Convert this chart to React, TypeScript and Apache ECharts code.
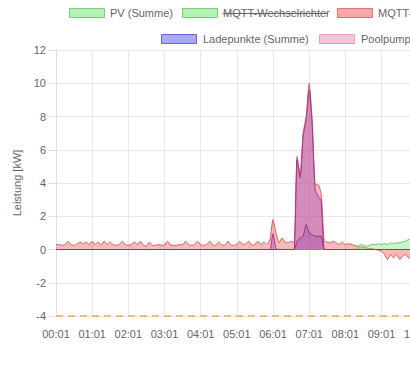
import React, { useEffect, useRef } from "react";
import * as echarts from "echarts";

// time step of the data in minutes, starting at 00:01
const stepMinutes = 5;

// MQTT-Zähler (grid / house), kW
const gridValues: number[] = [
  0.30, 0.30, 0.25, 0.30, 0.50, 0.28, 0.25, 0.35, 0.45, 0.35, 0.45, 0.30,
  0.50, 0.30, 0.45, 0.28, 0.50, 0.30, 0.45, 0.28, 0.25, 0.30, 0.50, 0.28,
  0.25, 0.30, 0.45, 0.30, 0.50, 0.25, 0.20, 0.45, 0.25, 0.25, 0.30, 0.25,
  0.28, 0.50, 0.28, 0.25, 0.25, 0.30, 0.28, 0.50, 0.30, 0.25, 0.30, 0.50,
  0.28, 0.25, 0.30, 0.50, 0.28, 0.25, 0.45, 0.28, 0.25, 0.50, 0.28, 0.25,
  0.30, 0.50, 0.30, 0.35, 0.50, 0.25, 0.30, 0.50, 0.30, 0.45, 0.30, 0.60,
  1.80, 1.00, 0.40, 0.70, 0.45, 0.40, 0.50, 0.40, 5.60, 4.50, 7.00, 8.00,
  10.00, 7.80, 3.90, 3.90, 3.30, 0.50, 0.45, 0.40, 0.50, 0.40, 0.30, 0.45,
  0.30, 0.35, 0.30, 0.25, 0.20, 0.15, 0.15, 0.10, 0.05, 0.05, 0.00, -0.05,
  -0.10, -0.30, -0.60, -0.30, -0.50, -0.30, -0.60, -0.40, -0.30, -0.50, -0.60, -0.40,
  -0.50, -0.60, -0.50, -0.40, -0.60, -0.50, -0.60, -0.50, -0.50,
];

// Ladepunkte (Summe), kW
const chargeTotalValues: number[] = [
  0, 0, 0, 0, 0, 0, 0, 0, 0, 0, 0, 0,
  0, 0, 0, 0, 0, 0, 0, 0, 0, 0, 0, 0,
  0, 0, 0, 0, 0, 0, 0, 0, 0, 0, 0, 0,
  0, 0, 0, 0, 0, 0, 0, 0, 0, 0, 0, 0,
  0, 0, 0, 0, 0, 0, 0, 0, 0, 0, 0, 0,
  0, 0, 0, 0, 0, 0, 0, 0, 0, 0, 0, 0,
  0.95, 0.05, 0, 0, 0, 0, 0, 0, 5.40, 4.30, 6.80, 7.80,
  9.60, 7.50, 3.60, 3.20, 2.90, 0, 0, 0, 0, 0, 0, 0,
  0, 0, 0, 0, 0, 0, 0, 0, 0, 0, 0, 0,
  0, 0, 0, 0, 0, 0, 0, 0, 0, 0, 0, 0,
  0, 0, 0, 0, 0, 0, 0, 0, 0,
];

// single charge point, kW
const chargePointValues: number[] = [
  0, 0, 0, 0, 0, 0, 0, 0, 0, 0, 0, 0,
  0, 0, 0, 0, 0, 0, 0, 0, 0, 0, 0, 0,
  0, 0, 0, 0, 0, 0, 0, 0, 0, 0, 0, 0,
  0, 0, 0, 0, 0, 0, 0, 0, 0, 0, 0, 0,
  0, 0, 0, 0, 0, 0, 0, 0, 0, 0, 0, 0,
  0, 0, 0, 0, 0, 0, 0, 0, 0, 0, 0, 0,
  0, 0, 0, 0, 0, 0, 0, 0, 0.50, 0.70, 0.80, 1.50,
  1.00, 0.90, 0.80, 0.80, 0.80, 0, 0, 0, 0, 0, 0, 0,
  0, 0, 0, 0, 0, 0, 0, 0, 0, 0, 0, 0,
  0, 0, 0, 0, 0, 0, 0, 0, 0, 0, 0, 0,
  0, 0, 0, 0, 0, 0, 0, 0, 0,
];

// PV (Summe), kW
const pvValues: number[] = [
  0, 0, 0, 0, 0, 0, 0, 0, 0, 0, 0, 0,
  0, 0, 0, 0, 0, 0, 0, 0, 0, 0, 0, 0,
  0, 0, 0, 0, 0, 0, 0, 0, 0, 0, 0, 0,
  0, 0, 0, 0, 0, 0, 0, 0, 0, 0, 0, 0,
  0, 0, 0, 0, 0, 0, 0, 0, 0, 0, 0, 0,
  0, 0, 0, 0, 0, 0, 0, 0, 0, 0, 0, 0,
  0, 0, 0, 0, 0, 0, 0, 0, 0, 0, 0, 0,
  0, 0, 0, 0, 0, 0, 0, 0, 0, 0, 0, 0,
  0, 0, 0, 0, 0.10, 0.30, 0.25, 0.20, 0.25, 0.30, 0.30, 0.35,
  0.30, 0.35, 0.30, 0.40, 0.35, 0.40, 0.40, 0.45, 0.50, 0.60, 0.65, 0.60,
  0.60, 0.65, 0.70, 0.65, 0.70, 0.70, 0.75, 0.70, 0.75,
];

// Poolpumpe, kW
const poolValues: number[] = [
  0, 0, 0, 0, 0, 0, 0, 0, 0, 0, 0, 0,
  0, 0, 0, 0, 0, 0, 0, 0, 0, 0, 0, 0,
  0, 0, 0, 0, 0, 0, 0, 0, 0, 0, 0, 0,
  0, 0, 0, 0, 0, 0, 0, 0, 0, 0, 0, 0,
  0, 0, 0, 0, 0, 0, 0, 0, 0, 0, 0, 0,
  0, 0, 0, 0, 0, 0, 0, 0, 0, 0, 0, 0,
  0, 0, 0, 0, 0, 0, 0, 0, 0, 0, 0, 0,
  0, 0, 0, 0, 0, 0, 0, 0, 0, 0, 0, 0,
  0, 0, 0, 0, 0, 0, 0, 0, 0, 0, 0, 0,
  0, 0, 0, 0, 0, 0, 0, 0, 0, 0, 0, 0,
  0, 0, 0, 0, 0, 0, 0, 0, 0,
];

const limitValue = -4;

const xTickLabels: string[] = [
  "00:01", "01:01", "02:01", "03:01", "04:01", "05:01", "06:01",
  "07:01", "08:01", "09:01", "10:01", "11:01", "12:01",
];

const yMin = -4;
const yMax = 12;
const yInterval = 2;

const legendRows = [
  { name: "PV (Summe)", fill: "#b4f0b4", border: "#78d078", hidden: false },
  { name: "MQTT-Wechselrichter", fill: "#b4f0b4", border: "#78d078", hidden: true },
  { name: "MQTT-Zähler", fill: "#f6a8a8", border: "#e47070", hidden: false },
  { name: "Ladepunkte (Summe)", fill: "#aaaaf2", border: "#6464d2", hidden: false },
  { name: "Poolpumpe", fill: "#f8c6dc", border: "#e8a0c0", hidden: false },
];

const FONT = "'Liberation Sans', Arial, sans-serif";

function toPairs(vals: number[]): [number, number][] {
  return vals.map((v, i) => [i * stepMinutes, v]);
}

export default function App() {
  const ref = useRef<HTMLDivElement>(null);

  useEffect(() => {
    if (!ref.current) return;
    const chart = echarts.init(ref.current, undefined, { renderer: "svg" });

    const legendPos = [
      { x: 69, y: 8, tx: 110 },
      { x: 182, y: 8, tx: 223 },
      { x: 337, y: 8, tx: 378 },
      { x: 161, y: 34, tx: 203 },
      { x: 319, y: 34, tx: 361 },
    ];
    const graphics: any[] = [];
    legendRows.forEach((item, i) => {
      const p = legendPos[i];
      graphics.push({
        type: "rect",
        shape: { x: p.x + 0.5, y: p.y + 0.5, width: 35, height: 9 },
        style: { fill: item.fill, stroke: item.border, lineWidth: 1 },
      });
      graphics.push({
        type: "text",
        x: p.tx,
        y: p.y + 5,
        style: {
          text: item.name,
          fill: "#666",
          font: `11px ${FONT}`,
          verticalAlign: "middle",
        },
      });
      if (item.hidden) {
        graphics.push({
          type: "line",
          shape: { x1: p.tx, y1: p.y + 5.5, x2: p.tx + 104, y2: p.y + 5.5 },
          style: { stroke: "#666", lineWidth: 1 },
        });
      }
    });

    const area = (name: string, data: number[], line: string, fill: string, z: number, extra: any = {}) => ({
      name,
      type: "line",
      data: toPairs(data),
      showSymbol: false,
      smooth: 0.2,
      z,
      lineStyle: { color: line, width: 1 },
      itemStyle: { color: line },
      areaStyle: { color: fill, origin: 0 },
      ...extra,
    });

    chart.setOption({
      animation: false,
      graphic: graphics,
      grid: { left: 56, top: 50, width: 434, height: 266, containLabel: false },
      xAxis: {
        type: "value",
        min: 0,
        max: 720,
        interval: 60,
        axisLine: { show: true, lineStyle: { color: "#e0e0e0" } },
        axisTick: { show: true, length: 6, lineStyle: { color: "#e0e0e0" } },
        splitLine: { show: true, lineStyle: { color: "#e8e8e8" } },
        axisLabel: {
          color: "#666",
          fontSize: 11,
          fontFamily: FONT,
          margin: 12,
          formatter: (v: number) => xTickLabels[Math.round(v / 60)] ?? "",
        },
      },
      yAxis: {
        type: "value",
        min: yMin,
        max: yMax,
        interval: yInterval,
        name: "Leistung [kW]",
        nameLocation: "middle",
        nameGap: 27,
        nameTextStyle: { color: "#666", fontSize: 11, fontFamily: FONT },
        axisLine: { show: true, lineStyle: { color: "#e0e0e0" } },
        axisTick: { show: true, length: 8, lineStyle: { color: "#e0e0e0" } },
        splitLine: { show: true, lineStyle: { color: "#e8e8e8" } },
        axisLabel: { color: "#666", fontSize: 11, fontFamily: FONT, margin: 10 },
      },
      series: [
        area("Poolpumpe", poolValues, "#e8a0c0", "rgba(245,160,200,0.5)", 2),
        area("MQTT-Zähler", gridValues, "#dc5a66", "rgba(232,90,90,0.6)", 3, {
          markLine: {
            silent: true,
            symbol: "none",
            label: { show: false },
            lineStyle: { color: "#f2a55a", width: 1.5, type: [7, 5] },
            data: [{ yAxis: limitValue }],
          },
        }),
        area("PV (Summe)", pvValues, "#6cc86c", "rgba(130,230,130,0.6)", 4),
        area("Ladepunkte (Summe)", chargeTotalValues, "#aa3290", "rgba(140,40,190,0.45)", 5),
        area("Ladepunkt", chargePointValues, "#923084", "rgba(134,36,160,0.35)", 6),
      ],
    });

    return () => chart.dispose();
  }, []);

  return (
    <div
      style={{
        position: "fixed",
        left: 0,
        top: 0,
        width: 410,
        height: 366,
        overflow: "hidden",
        background: "#fff",
      }}
    >
      <div ref={ref} style={{ width: 510, height: 366 }} />
    </div>
  );
}
